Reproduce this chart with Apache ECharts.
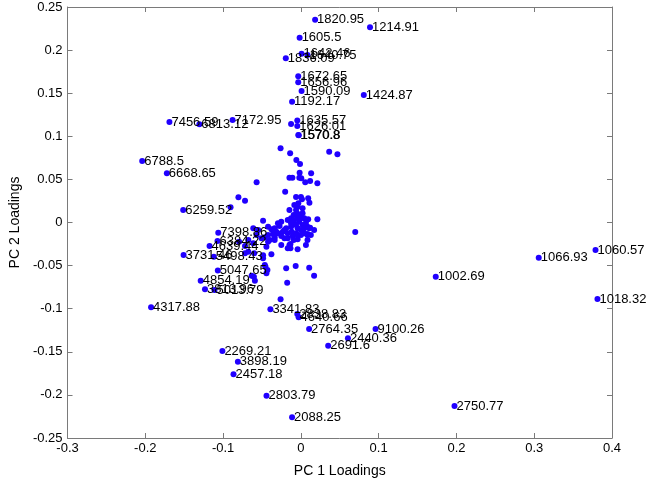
<!DOCTYPE html>
<html>
<head>
<meta charset="utf-8">
<script src="https://cdn.jsdelivr.net/npm/echarts@6/dist/echarts.min.js"></script>
<style>html,body{margin:0;padding:0;background:#fff;}#c{width:646px;height:483px;}</style>
</head>
<body>
<div id="c"></div>
<script>
// Labeled loadings points [PC1, PC2]
const labeledPoints = [
  [0.0183, 0.2353], [0.0889, 0.2264], [-0.0016, 0.2144], [0.0009, 0.1958], [0.0085, 0.1943],
  [-0.0194, 0.1905], [-0.0034, 0.1696], [-0.0034, 0.1626], [0.0009, 0.1526], [0.0809, 0.1479],
  [-0.0113, 0.1401], [-0.1690, 0.1166], [-0.1305, 0.1139], [-0.0878, 0.1189], [-0.0046, 0.1183],
  [-0.0046, 0.1120], [-0.0033, 0.1015], [-0.0027, 0.1012], [-0.2040, 0.0713], [-0.1723, 0.0571],
  [-0.1513, 0.0145], [-0.1062, -0.0120], [-0.1072, -0.0215], [-0.1174, -0.0273], [-0.1508, -0.0377],
  [-0.1119, -0.0397], [-0.1068, -0.0557], [-0.1288, -0.0675], [-0.1233, -0.0775], [-0.1111, -0.0783],
  [-0.1926, -0.0984], [-0.0392, -0.1007], [-0.0046, -0.1061], [-0.0029, -0.1100], [0.0106, -0.1235],
  [0.0960, -0.1235], [0.0605, -0.1343], [0.0351, -0.1429], [-0.1009, -0.1491], [-0.0810, -0.1615],
  [-0.0866, -0.1761], [-0.0442, -0.2009], [-0.0113, -0.2260], [0.3788, -0.0319], [0.3058, -0.0408],
  [0.1734, -0.0629], [0.3813, -0.0887], [0.1975, -0.2129]
];
const labelTexts = [
  '1820.95', '1214.91', '1605.5', '1642.46', '1640.75',
  '1836.09', '1672.65', '1656.96', '1590.09', '1424.87',
  '1192.17', '7456.59', '6813.12', '7172.95', '1635.57',
  '1626.01', '1570.8', '1570.8', '6788.5', '6668.65',
  '6259.52', '7398.86', '6384.22', '4639.44', '3731.46',
  '5498.43', '5047.65', '4854.19', '3813.96', '5013.79',
  '4317.88', '3341.83', '2838.83', '4640.66', '2764.35',
  '9100.26', '2440.36', '2691.6', '2269.21', '3898.19',
  '2457.18', '2803.79', '2088.25', '1060.57', '1066.93',
  '1002.69', '1018.32', '2750.77'
];
// Unlabeled loadings points [PC1, PC2]
const otherPoints = [
  [-0.0261, 0.0861], [-0.0138, 0.0803], [0.0364, 0.0821], [0.0470, 0.0791], [-0.0058, 0.0725],
  [-0.0011, 0.0679], [-0.0016, 0.0578], [0.0132, 0.0571], [-0.0147, 0.0520], [-0.0109, 0.0520],
  [-0.0020, 0.0520], [0.0005, 0.0513], [0.0056, 0.0466], [0.0119, 0.0481], [0.0212, 0.0455],
  [-0.0569, 0.0466], [-0.0202, 0.0357], [-0.0062, 0.0296], [0.0001, 0.0296], [0.0094, 0.0281],
  [0.0110, 0.0230], [0.0014, 0.0269], [-0.0803, 0.0292], [-0.0718, 0.0253], [-0.0904, 0.0176],
  [-0.0147, 0.0145], [-0.0042, 0.0183], [-0.0049, 0.0107], [0.0022, 0.0165], [0.0043, 0.0049],
  [0.0094, 0.0037], [0.0212, 0.0037], [-0.0486, 0.0021], [0.0699, -0.0110], [0.0119, -0.0060],
  [0.0085, -0.0133], [-0.0042, -0.0195], [-0.0134, -0.0249], [-0.0134, -0.0299], [-0.0042, -0.0311],
  [-0.0486, -0.0381], [-0.0379, -0.0369], [-0.0464, -0.0493], [-0.0189, -0.0531], [-0.0067, -0.0505],
  [0.0107, -0.0524], [0.0170, -0.0617], [-0.0176, -0.0698], [-0.0261, -0.0891], [-0.0612, -0.0067],
  [-0.0676, -0.0339], [-0.0600, -0.0357], [-0.0486, -0.0415], [-0.0455, -0.0513], [-0.0430, -0.0551],
  [-0.0604, -0.0629], [-0.0591, -0.0675], [-0.0443, -0.0589], [-0.0633, -0.0617],
  [-0.0379, -0.0079], [-0.0337, -0.0067], [-0.0274, -0.0041], [-0.0252, 0.0009], [-0.0169, 0.0029],
  [-0.0093, 0.0087], [0.0001, 0.0049], [-0.0020, 0.0009], [-0.0084, -0.0009], [-0.0126, -0.0049],
  [-0.0189, -0.0067], [-0.0232, -0.0107], [-0.0295, -0.0125], [-0.0337, -0.0172], [-0.0401, -0.0203],
  [-0.0211, -0.0183], [-0.0169, -0.0183], [-0.0105, -0.0157], [-0.0062, -0.0125], [0.0001, -0.0087],
  [0.0043, -0.0067], [0.0085, -0.0049], [-0.0093, -0.0203], [-0.0147, -0.0261], [-0.0062, -0.0029],
  [-0.0042, -0.0067], [0.0022, -0.0029], [0.0065, -0.0002], [-0.0118, -0.0107], [-0.0169, -0.0125],
  [-0.0252, -0.0157], [-0.0042, -0.0145], [0.0001, -0.0145], [0.0043, -0.0125], [-0.0126, 0.0049],
  [-0.0093, 0.0029], [-0.0042, 0.0049], [-0.0020, 0.0087], [0.0022, 0.0107], [-0.0062, 0.0145],
  [-0.0033, 0.0223], [-0.0084, 0.0203], [-0.0316, -0.0107], [-0.0359, -0.0133], [-0.0422, -0.0145],
  [-0.0464, -0.0172], [0.0085, -0.0145], [0.0128, -0.0145], [0.0085, -0.0203], [0.0065, -0.0261],
  [0.0107, -0.0067], [0.0170, -0.0087], [-0.0295, -0.0009], [-0.0211, -0.0087], [-0.0126, -0.0009],
  [-0.0337, -0.0087], [-0.0422, -0.0049], [-0.0549, -0.0087], [-0.0569, -0.0145], [-0.0506, -0.0183],
  [-0.0422, -0.0223], [-0.0337, -0.0203], [-0.0612, -0.0241], [-0.0718, -0.0273], [-0.0794, -0.0223],
  [-0.0676, -0.0203], [-0.0443, -0.0281], [-0.0252, -0.0261], [-0.0169, -0.0299], [-0.0718, -0.0357],
  [-0.0126, 0.1143]
];
const xTicks = { min: -0.3, max: 0.4, interval: 0.1 };
const yTicks = { min: -0.25, max: 0.25, interval: 0.05 };

const FONT = '"Liberation Sans", Arial, Helvetica, sans-serif';
const DOT = '#2000ff';
const AXIS_COLOR = '#7a7a7a';

const labeledData = labeledPoints.map((p, i) => ({ value: [p[0], p[1]], name: labelTexts[i] }));

function mkAxis(isX, primary) {
  const t = isX ? xTicks : yTicks;
  return {
    type: 'value',
    position: isX ? (primary ? 'bottom' : 'top') : (primary ? 'left' : 'right'),
    min: t.min, max: t.max, interval: t.interval,
    splitLine: { show: false },
    axisLine: { show: true, onZero: false, lineStyle: { color: AXIS_COLOR, width: 1 } },
    axisTick: { show: true, inside: true, length: 5, lineStyle: { color: AXIS_COLOR } },
    axisLabel: {
      show: primary, color: '#000', fontSize: 13, fontFamily: FONT,
      margin: isX ? 4 : 5
    },
    name: primary ? (isX ? 'PC 1 Loadings' : 'PC 2 Loadings') : '',
    nameLocation: 'middle',
    nameGap: isX ? 26 : 37,
    nameTextStyle: { color: '#000', fontSize: 14, fontFamily: FONT }
  };
}

const chart = echarts.init(document.getElementById('c'), null, { renderer: 'canvas' });
chart.setOption({
  animation: false,
  backgroundColor: '#fff',
  grid: { left: 60, right: 34, top: 7, bottom: 45, containLabel: false },
  xAxis: [mkAxis(true, true), mkAxis(true, false)],
  yAxis: [mkAxis(false, true), mkAxis(false, false)],
  series: [
    {
      type: 'scatter', xAxisIndex: 0, yAxisIndex: 0,
      symbol: 'circle', symbolSize: 6,
      itemStyle: { color: DOT, opacity: 1 },
      data: otherPoints,
      silent: true
    },
    {
      type: 'scatter', xAxisIndex: 0, yAxisIndex: 0,
      symbol: 'circle', symbolSize: 6,
      itemStyle: { color: DOT, opacity: 1 },
      data: labeledData,
      silent: true,
      label: {
        show: true, position: 'right', distance: -1,
        formatter: p => p.name,
        color: '#000', opacity: 1, fontSize: 13, fontFamily: FONT
      }
    }
  ]
});
</script>
</body>
</html>
